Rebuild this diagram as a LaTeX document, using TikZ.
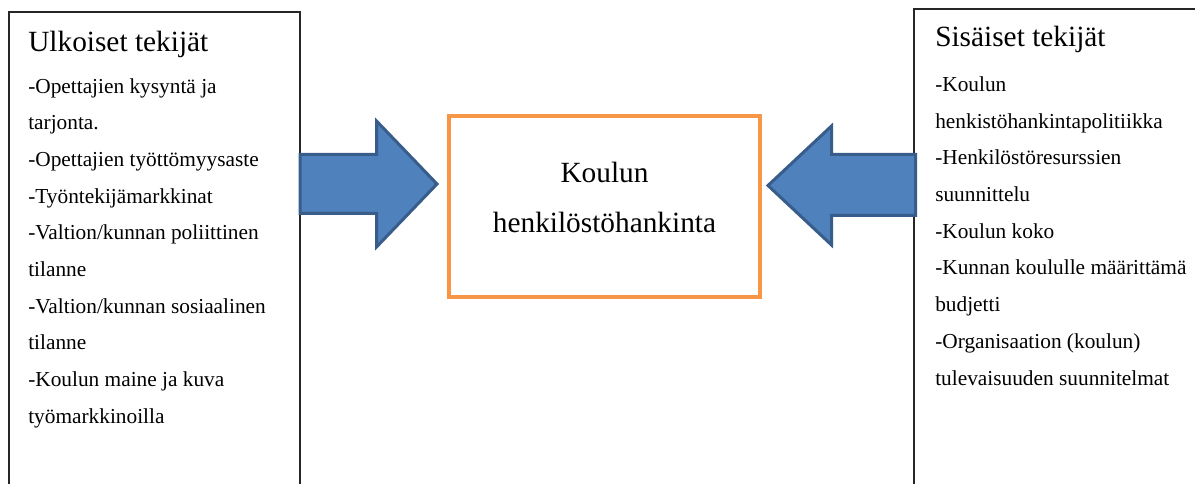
\documentclass[tikz,border=0pt]{standalone}
\usepackage{fontspec}
\setmainfont{Liberation Serif}
\definecolor{arrowfill}{HTML}{4F81BD}
\definecolor{arrowline}{HTML}{385D8A}
\definecolor{boxorange}{HTML}{F79646}
\begin{document}
\begin{tikzpicture}[x=0.75pt,y=-0.75pt,
  sidebox/.style={draw=black!85,line width=0.9pt,fill=white,inner sep=0pt},
  mainbox/.style={draw=boxorange,line width=3pt,inner sep=0pt},
  titletext/.style={anchor=base west,inner sep=0pt,font=\fontsize{22}{26}\selectfont},
  bodytext/.style={anchor=base west,inner sep=0pt,align=left,font=\fontsize{16}{27.5}\selectfont},
  centertext/.style={anchor=base,inner sep=0pt,align=center,font=\fontsize{22}{37.5}\selectfont},
  blockarrow/.style={draw=arrowline,fill=arrowfill,line width=2.25pt,line join=miter}]
\useasboundingbox (0,0) rectangle (1195,484);
\clip (0,0) rectangle (1195,484);
% boxes
\node[sidebox,minimum width=218.25pt,minimum height=381pt] (lbox) at (154.5,266) {};
\node[sidebox,minimum width=229.5pt,minimum height=383.25pt] (rbox) at (1067,264.5) {};
\node[mainbox,minimum width=233.25pt,minimum height=135.75pt] (cbox) at (604.5,206.5) {};
% arrows
\draw[blockarrow] (300,154.5) -- (376.5,154.5) -- (376.5,121) -- (437,184) -- (376.5,247) -- (376.5,213.5) -- (300,213.5) -- cycle;
\draw[blockarrow] (915.5,154.5) -- (831.5,154.5) -- (831.5,126) -- (768,185.5) -- (831.5,245) -- (831.5,215.5) -- (915.5,215.5) -- cycle;
% texts (base anchor = baseline of last line)
\node[titletext] (ltitle) at (28,52) {Ulkoiset tekijät};
\node[bodytext] (lbody) at (28,423) {-Opettajien kysyntä ja\\tarjonta.\\-Opettajien työttömyysaste\\-Työntekijämarkkinat\\-Valtion/kunnan poliittinen\\tilanne\\-Valtion/kunnan sosiaalinen\\tilanne\\-Koulun maine ja kuva\\työmarkkinoilla};
\node[titletext] (rtitle) at (935,47) {Sisäiset tekijät};
\node[bodytext] (rbody) at (935,385) {-Koulun\\henkistöhankintapolitiikka\\-Henkilöstöresurssien\\suunnittelu\\-Koulun koko\\-Kunnan koululle määrittämä\\budjetti\\-Organisaation (koulun)\\tulevaisuuden suunnitelmat};
\node[centertext] (ctext) at (604.5,233) {Koulun\\henkilöstöhankinta};
\end{tikzpicture}
\end{document}
